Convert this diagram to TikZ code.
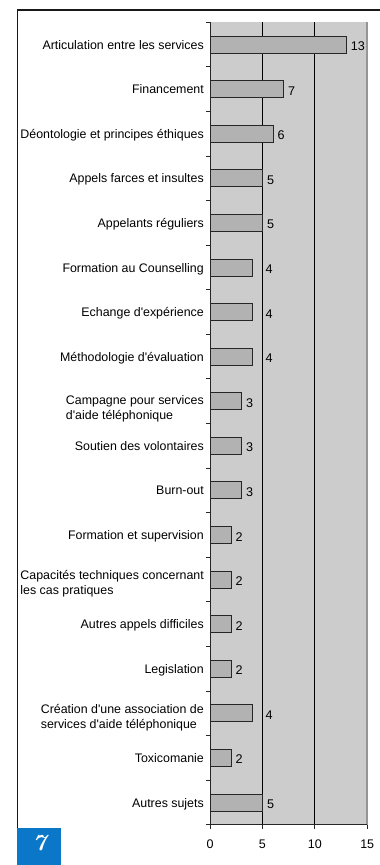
\documentclass[tikz,border=0pt]{standalone}
\usepackage{fontspec}
\newfontfamily\arial{Liberation Sans}
\usepackage{tikz}

\definecolor{plotgray}{RGB}{204,204,204}
\definecolor{bargray}{RGB}{178,178,178}
\definecolor{edgegray}{RGB}{150,150,150}
\definecolor{tabblue}{RGB}{11,119,200}

\tikzset{
  cat/.style={font=\arial\fontsize{12.4}{14.8}\selectfont,inner sep=0pt,anchor=base east},
  cattwo/.style={cat,align=left,anchor=north east},
  barbox/.style={rectangle,draw=black!85,fill=bargray,line width=0.9pt,minimum height=17pt,inner sep=0pt,anchor=west},
  val/.style={font=\arial\fontsize{12.6}{14.8}\selectfont,inner sep=0pt,anchor=base west},
  tic/.style={font=\arial\fontsize{12.5}{14}\selectfont,inner sep=0pt,anchor=base}
}

\begin{document}
\begin{tikzpicture}[x=1pt,y=-1pt]
\useasboundingbox (0,0) rectangle (380,865);
% plot area
\fill[plotgray] (210,22.3) rectangle (367.2,824.7);
\draw[edgegray,line width=1.5pt] (367.2,22.3) -- (367.2,824.7);
\draw[black,line width=0.9pt] (262.4,22.3) -- (262.4,824.7);
\draw[black,line width=0.9pt] (314.8,22.3) -- (314.8,824.7);

\node[cat] (c1) at (204,49.1) {Articulation entre les services};
\node[barbox,minimum width=136.2pt] (b1) at (210,44.6) {};
\node[val] (n1) at (350.7,50.6) {13};
\node[cat] (c2) at (204,93.7) {Financement};
\node[barbox,minimum width=73.4pt] (b2) at (210,89.2) {};
\node[val] (n2) at (287.9,95.2) {7};
\node[cat] (c3) at (204,138.3) {Déontologie et principes éthiques};
\node[barbox,minimum width=62.9pt] (b3) at (210,133.8) {};
\node[val] (n3) at (277.4,139.8) {6};
\node[cat] (c4) at (204,182.8) {Appels farces et insultes};
\node[barbox,minimum width=52.4pt] (b4) at (210,178.3) {};
\node[val] (n4) at (266.9,184.3) {5};
\node[cat] (c5) at (204,227.4) {Appelants réguliers};
\node[barbox,minimum width=52.4pt] (b5) at (210,222.9) {};
\node[val] (n5) at (266.9,228.9) {5};
\node[cat] (c6) at (204,272.0) {Formation au Counselling};
\node[barbox,minimum width=41.9pt] (b6) at (210,267.5) {};
\node[val] (n6) at (265.5,273.5) {4};
\node[cat] (c7) at (204,316.6) {Echange d'expérience};
\node[barbox,minimum width=41.9pt] (b7) at (210,312.1) {};
\node[val] (n7) at (265.5,318.1) {4};
\node[cat] (c8) at (204,361.2) {Méthodologie d'évaluation};
\node[barbox,minimum width=41.9pt] (b8) at (210,356.7) {};
\node[val] (n8) at (265.5,362.7) {4};
\node[cattwo] (c9) at (204,395.5) {Campagne pour services\\d'aide téléphonique};
\node[barbox,minimum width=31.4pt] (b9) at (210,401.2) {};
\node[val] (n9) at (245.9,407.2) {3};
\node[cat] (c10) at (204,450.3) {Soutien des volontaires};
\node[barbox,minimum width=31.4pt] (b10) at (210,445.8) {};
\node[val] (n10) at (245.9,451.8) {3};
\node[cat] (c11) at (204,494.9) {Burn-out};
\node[barbox,minimum width=31.4pt] (b11) at (210,490.4) {};
\node[val] (n11) at (245.9,496.4) {3};
\node[cat] (c12) at (204,539.5) {Formation et supervision};
\node[barbox,minimum width=21.0pt] (b12) at (210,535.0) {};
\node[val] (n12) at (235.5,541.0) {2};
\node[cattwo] (c13) at (204,570.6) {Capacités techniques concernant\\les cas pratiques};
\node[barbox,minimum width=21.0pt] (b13) at (210,579.6) {};
\node[val] (n13) at (235.5,585.6) {2};
\node[cat] (c14) at (204,628.6) {Autres appels difficiles};
\node[barbox,minimum width=21.0pt] (b14) at (210,624.1) {};
\node[val] (n14) at (235.5,630.1) {2};
\node[cat] (c15) at (204,673.2) {Legislation};
\node[barbox,minimum width=21.0pt] (b15) at (210,668.7) {};
\node[val] (n15) at (235.5,674.7) {2};
\node[cattwo] (c16) at (204,704.2) {Création d'une association de\\services d'aide téléphonique};
\node[barbox,minimum width=41.9pt] (b16) at (210,713.3) {};
\node[val] (n16) at (265.5,719.3) {4};
\node[cat] (c17) at (204,762.4) {Toxicomanie};
\node[barbox,minimum width=21.0pt] (b17) at (210,757.9) {};
\node[val] (n17) at (235.5,763.9) {2};
\node[cat] (c18) at (204,807.0) {Autres sujets};
\node[barbox,minimum width=52.4pt] (b18) at (210,802.5) {};
\node[val] (n18) at (266.9,808.5) {5};

% axes and ticks
\draw[black!85,line width=0.9pt] (210,22.3) -- (210,824.7) -- (367.2,824.7);
\draw[black!85,line width=0.9pt]
  (206,22.3) -- (210,22.3) (206,66.9) -- (210,66.9) (206,111.5) -- (210,111.5)
  (206,156.0) -- (210,156.0) (206,200.6) -- (210,200.6) (206,245.2) -- (210,245.2)
  (206,289.8) -- (210,289.8) (206,334.4) -- (210,334.4) (206,378.9) -- (210,378.9)
  (206,423.5) -- (210,423.5) (206,468.1) -- (210,468.1) (206,512.7) -- (210,512.7)
  (206,557.3) -- (210,557.3) (206,601.8) -- (210,601.8) (206,646.4) -- (210,646.4)
  (206,691.0) -- (210,691.0) (206,735.6) -- (210,735.6) (206,780.2) -- (210,780.2)
  (206,824.7) -- (210,824.7)
  (210,824.7) -- (210,828.7) (262.4,824.7) -- (262.4,828.7)
  (314.8,824.7) -- (314.8,828.7) (367.2,824.7) -- (367.2,828.7);
\node[tic] (t0) at (210,848.3) {0};
\node[tic] (t5) at (262.4,848.3) {5};
\node[tic] (t10) at (314.8,848.3) {10};
\node[tic] (t15) at (367.2,848.3) {15};

% frame and page tab
\draw[black!90,line width=1.6pt] (17.3,865) -- (17.3,10) -- (380,10);
\fill[tabblue] (16.5,827.7) rectangle (60.7,865);
\node[white,inner sep=0pt,font=\fontsize{23}{23}\selectfont\bfseries\itshape] (sept) at (39.5,843.2) {7};
\end{tikzpicture}
\end{document}
